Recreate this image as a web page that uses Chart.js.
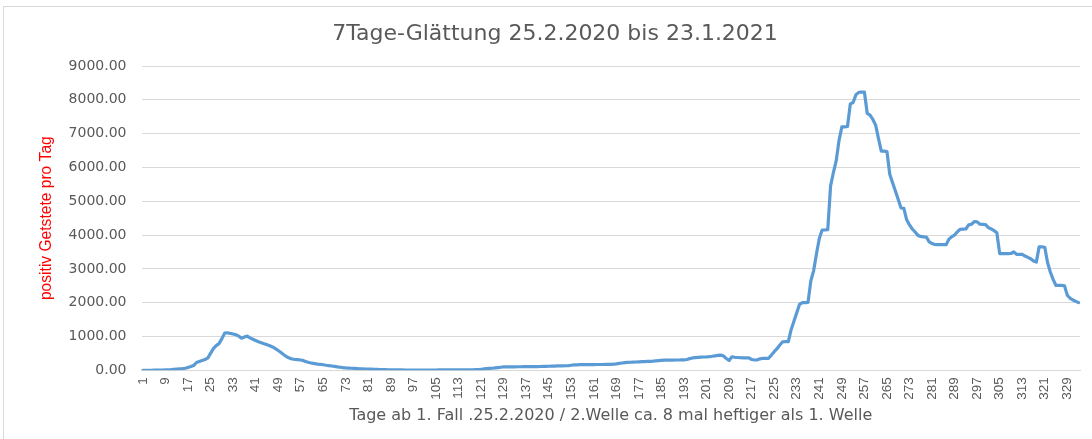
<!DOCTYPE html>
<html>
<head>
<meta charset="utf-8">
<script src="https://cdn.jsdelivr.net/npm/chart.js@4/dist/chart.umd.min.js"></script>
<style>
  html, body { margin: 0; padding: 0; background: #ffffff; }
  #wrap { position: relative; width: 1092px; height: 439px; overflow: hidden; }
  #frame { position: absolute; left: 3px; top: 6px; width: 1200px; height: 500px;
           border-top: 1px solid #d9d9d9; border-left: 1px solid #d9d9d9; }
  #c { position: absolute; left: 0; top: 0; }
</style>
</head>
<body>
<div id="wrap">
  <div id="frame"></div>
  <canvas id="c" width="1092" height="439"></canvas>
</div>
<script>
// ---- data ----
const chartTitle = "7Tage-Glättung 25.2.2020 bis 23.1.2021";
const yAxisTitle = "positiv Getstete pro Tag";
const xAxisTitle = "Tage ab 1. Fall .25.2.2020 / 2.Welle ca. 8 mal heftiger als 1. Welle";
const dayCount = 333;
const tickEvery = 8;
const yTicks = [0, 1000, 2000, 3000, 4000, 5000, 6000, 7000, 8000, 9000];

const days = [];
for (let d = 1; d <= dayCount; d++) days.push(String(d));

const firstWave = [
  0, 0, 1, 2, 3, 4, 6, 8, 12, 15,
  20, 28, 35, 42, 50, 60, 85, 110, 140, 230,
  260, 290, 320, 360, 500, 640, 730, 790, 930, 1100,
  1110, 1090, 1075, 1050, 1010, 950, 985, 1010, 960, 920,
  880, 845, 815, 785, 760, 725, 690, 640, 585, 525,
  460, 400, 360, 335, 320, 315, 305, 285, 255, 230,
  210, 195, 185, 178, 165, 150, 140, 128, 115, 100,
  90, 80, 72, 66, 60, 55, 50, 46, 42, 38,
  35, 32, 30, 27, 24, 21, 18, 15, 13, 12
];
const summer = [
  11, 10, 10, 9, 9, 8, 8, 8, 8, 8,
  8, 8, 9, 9, 9, 10, 10, 10, 10, 11,
  11, 12, 12, 13, 14, 14, 15, 16, 18, 20,
  25, 40, 50, 55, 60, 70, 80, 90, 100, 100,
  102, 103, 104, 105, 105, 106, 107, 108, 109, 110,
  110, 112, 115, 118, 120, 122, 125, 128, 130, 132,
  135, 140, 150, 158, 162, 165, 168, 170, 170, 170,
  170, 171, 172, 172, 173, 174, 175, 180, 190, 205,
  215, 225, 232, 238, 242, 246, 250, 254, 258, 262,
  266, 272, 280, 288, 295, 300, 302, 303, 303, 304,
  305, 306, 308, 320, 345, 365, 375, 382, 388, 393,
  398, 405, 415, 428, 440, 450, 420, 350, 290, 400,
  385, 378, 372, 370, 370, 365, 320, 305, 310, 340
];
const secondWave = [
  355, 355, 355, 450, 550, 640, 750, 845, 850, 850,
  1200, 1450, 1700, 1950, 2000, 2000, 2010, 2650, 2950, 3450,
  3900, 4150, 4150, 4160, 5450, 5850, 6200, 6800, 7200, 7200,
  7210, 7880, 7920, 8150, 8220, 8230, 8230, 7600, 7550, 7420,
  7250, 6850, 6480, 6480, 6470, 5800, 5550, 5300, 5050, 4800,
  4790, 4450, 4300, 4180, 4090, 3990, 3960, 3945, 3940, 3800,
  3750, 3720, 3715, 3715, 3715, 3715, 3880, 3950, 4000, 4100,
  4170, 4175, 4180, 4300, 4320, 4400, 4390, 4320, 4315, 4310,
  4220, 4180, 4130, 4070, 3450, 3450, 3450, 3450, 3455, 3500,
  3430, 3430, 3430, 3380, 3340, 3300, 3230, 3200, 3650, 3650,
  3640, 3180, 2900, 2680, 2510, 2510, 2510, 2500, 2220, 2130,
  2080, 2040, 2000
];
const cases = firstWave.concat(summer, secondWave);

// ---- chart ----
const grey = '#595959';
new Chart(document.getElementById('c'), {
  type: 'line',
  data: {
    labels: days,
    datasets: [{
      data: cases,
      borderColor: '#5B9BD5',
      backgroundColor: '#5B9BD5',
      borderWidth: 3.2,
      pointRadius: 0,
      pointHoverRadius: 0,
      tension: 0,
      fill: false,
      borderJoinStyle: 'round',
      borderCapStyle: 'round'
    }]
  },
  options: {
    responsive: false,
    animation: false,
    events: [],
    layout: { padding: { left: 30, right: 12, top: 0, bottom: 0 } },
    plugins: {
      legend: { display: false },
      tooltip: { enabled: false },
      title: {
        display: true,
        text: chartTitle,
        color: grey,
        font: { family: 'DejaVu Sans', size: 22, weight: 'normal', lineHeight: 1.2 },
        padding: { top: 21, bottom: 18.6 }
      }
    },
    scales: {
      x: {
        type: 'category',
        offset: true,
        grid: { display: false, drawTicks: false },
        border: { display: true, color: '#d9d9d9', width: 1 },
        ticks: {
          autoSkip: false,
          maxRotation: 90,
          minRotation: 90,
          padding: 7,
          color: grey,
          font: { family: 'Liberation Sans', size: 13.5 },
          callback: function (value, index) {
            return index % tickEvery === 0 ? days[index] : '';
          }
        },
        title: {
          display: true,
          text: xAxisTitle,
          color: grey,
          font: { family: 'DejaVu Sans', size: 16, lineHeight: 1.2 },
          padding: { top: 0, bottom: 13.5 }
        },
        afterFit: function (scale) {
          scale.height = 68.7;
          scale.paddingLeft = 0;
          scale.paddingRight = 0;
        }
      },
      y: {
        min: yTicks[0],
        max: yTicks[yTicks.length - 1],
        afterBuildTicks: function (scale) {
          scale.ticks = yTicks.map(v => ({ value: v }));
        },
        grid: { color: '#d9d9d9', lineWidth: 1, drawTicks: false },
        border: { display: false },
        ticks: {
          padding: 15,
          color: grey,
          font: { family: 'DejaVu Sans', size: 14 },
          callback: v => Number(v).toFixed(2)
        },
        title: {
          display: true,
          text: yAxisTitle,
          color: '#ff0000',
          font: { family: 'Liberation Sans', size: 15.6, lineHeight: 1.2 },
          padding: { top: 7, bottom: 0 }
        },
        afterFit: function (scale) { scale.width = 111.5; }
      }
    }
  }
});
</script>
</body>
</html>
